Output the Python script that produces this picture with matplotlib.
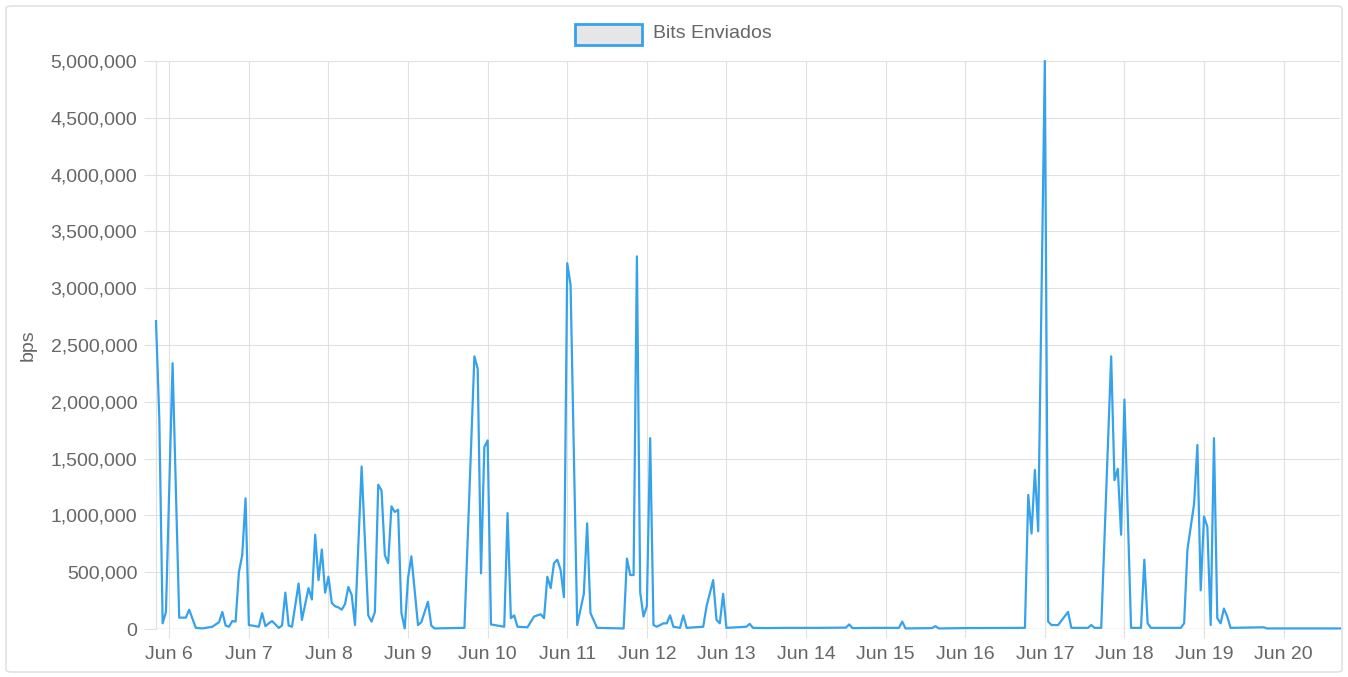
import matplotlib
matplotlib.use('Agg')
import matplotlib.pyplot as plt
import matplotlib.dates as mdates
from matplotlib.patches import Rectangle, FancyBboxPatch
from matplotlib.ticker import FuncFormatter, MultipleLocator
from datetime import datetime, timedelta

# hours since Jun 6 00:00 and bits per second sent
hours = [-4, -3, -2, -1, 1, 3, 5, 6, 8, 10, 13, 15, 16, 17, 18, 19, 20, 21, 22, 23,
         24, 27, 28, 29, 30, 31, 33, 34, 35, 36, 37, 39, 40, 42, 43, 44, 45, 46, 47, 48,
         49, 50, 51, 52, 53, 54, 55, 56, 58, 60, 61, 62, 63, 64, 65, 66, 67, 68, 69, 70,
         71, 72, 73, 75, 76, 78, 79, 80, 89, 92, 93, 94, 95, 96, 97, 101, 102, 103, 104, 105,
         108, 110, 111, 112, 113, 114, 115, 116, 117, 118, 119, 120, 121, 123, 125, 126, 127, 129, 137, 138,
         139, 140, 141, 142, 143, 144, 145, 146, 147, 149, 150, 151, 152, 154, 155, 156, 161, 162, 164, 165,
         166, 167, 168, 174, 175, 176, 180, 186, 196, 204, 205, 206, 213, 220, 221, 222, 230, 231, 232, 240,
         258, 259, 260, 261, 262, 264, 265, 266, 268, 271, 272, 277, 278, 279, 281, 284, 285, 286, 287, 288,
         290, 293, 294, 295, 296, 305, 306, 307, 309, 310, 311, 312, 313, 314, 315, 316, 317, 318, 319, 320,
         330, 331, 353]

bps = [2710000, 1850000, 50000, 150000, 2340000, 100000, 100000, 170000, 10000, 5000,
       20000, 60000, 150000, 30000, 20000, 70000, 65000, 500000, 650000, 1150000,
       35000, 20000, 140000, 25000, 50000, 70000, 10000, 30000, 320000, 30000,
       20000, 400000, 80000, 360000, 260000, 830000, 430000, 700000, 320000, 460000,
       230000, 200000, 190000, 170000, 220000, 370000, 300000, 35000, 1430000, 120000,
       65000, 150000, 1270000, 1220000, 650000, 580000, 1080000, 1030000, 1050000, 140000,
       5000, 450000, 640000, 35000, 60000, 240000, 30000, 5000, 10000, 2400000,
       2290000, 490000, 1600000, 1660000, 40000, 20000, 1020000, 95000, 120000, 20000,
       15000, 110000, 120000, 130000, 95000, 460000, 360000, 580000, 610000, 520000,
       280000, 3220000, 3030000, 35000, 310000, 930000, 140000, 10000, 5000, 620000,
       475000, 475000, 3280000, 320000, 110000, 200000, 1680000, 35000, 20000, 50000,
       50000, 120000, 20000, 10000, 120000, 10000, 20000, 200000, 430000, 80000,
       50000, 310000, 10000, 20000, 45000, 10000, 8000, 10000, 10000, 12000,
       40000, 8000, 10000, 10000, 65000, 5000, 8000, 25000, 5000, 8000,
       10000, 1180000, 840000, 1400000, 860000, 5000000, 65000, 35000, 35000, 150000,
       10000, 10000, 35000, 10000, 10000, 2400000, 1310000, 1410000, 830000, 2020000,
       10000, 10000, 610000, 50000, 10000, 10000, 50000, 700000, 1100000, 1620000,
       340000, 990000, 900000, 35000, 1680000, 95000, 50000, 180000, 110000, 10000,
       15000, 5000, 5000]

start = datetime(2020, 6, 6)
times = [start + timedelta(hours=h) for h in hours]

W, H = 1348, 677
fig = plt.figure(figsize=(W / 100, H / 100), dpi=100)
plt.rcParams['font.family'] = ['Liberation Sans', 'DejaVu Sans']

text_color = '#666666'
grid_color = '#e1e1e1'
line_color = '#36a2eb'

# outer card border
frame = FancyBboxPatch((6 / W, 5 / H), 1336 / W, 666 / H,
                       boxstyle='round,pad=0,rounding_size=0.004',
                       transform=fig.transFigure, facecolor='none',
                       edgecolor='#e2e2e2', linewidth=1.2, zorder=-1)
fig.patches.append(frame)

ax = fig.add_axes([156 / W, 1 - 629 / H, (1340 - 156) / W, (629 - 61) / H])
ax.set_facecolor('none')

ax.plot(times, bps, color=line_color, linewidth=1.6, solid_joinstyle='round',
        clip_on=False, zorder=3)

ax.set_xlim(times[0], times[-1])
ax.set_ylim(0, 5000000)
ax.yaxis.set_major_locator(MultipleLocator(500000))
ax.yaxis.set_major_formatter(FuncFormatter(lambda v, p: f'{v:,.0f}'))

ax.xaxis.set_major_locator(mdates.DayLocator())
def day_label(v, p):
    d = mdates.num2date(v)
    return f'{d:%b} {d.day}'
ax.xaxis.set_major_formatter(FuncFormatter(day_label))

ax.grid(True, color=grid_color, linewidth=0.8)
ax.set_axisbelow(True)
for s in ['top', 'right', 'bottom']:
    ax.spines[s].set_visible(False)
ax.spines['left'].set_color(grid_color)
ax.spines['left'].set_linewidth(0.8)
ax.axhline(0, color='#c4c4c4', linewidth=0.9, zorder=1)

ax.tick_params(axis='y', length=8.5, width=0.8, color=grid_color, pad=5,
               labelsize=14, labelcolor=text_color)
ax.tick_params(axis='x', length=6.5, width=0.8, color=grid_color, pad=6,
               labelsize=14, labelcolor=text_color)

ax.set_ylabel('bps', fontsize=14, color=text_color, labelpad=10)

# legend box drawn like the web chart
fig.patches.append(Rectangle((575 / W, 1 - 45 / H), 67 / W, 21 / H,
                             transform=fig.transFigure, facecolor='#e6e6e6',
                             edgecolor=line_color, linewidth=2.0))
fig.text(653 / W, 1 - 33 / H, 'Bits Enviados', fontsize=14, color=text_color,
         ha='left', va='center')

fig.savefig('out.png', dpi=100, facecolor='white')
